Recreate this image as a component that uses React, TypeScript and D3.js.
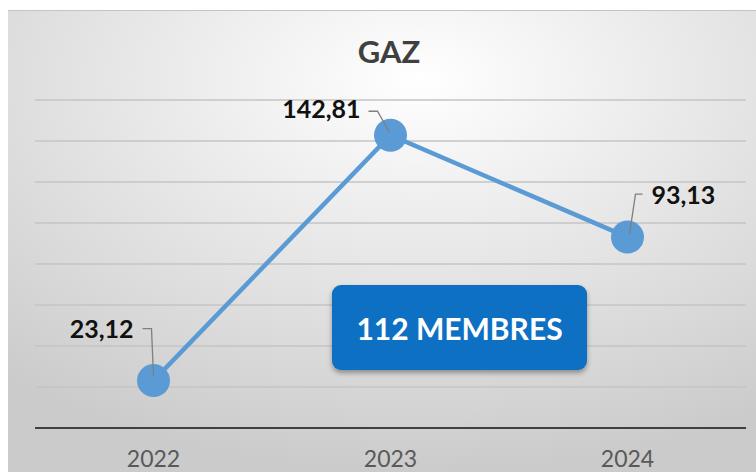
import React from "react";
import * as d3 from "d3";

const categories = ["2022", "2023", "2024"];
const values = [23.12, 142.81, 93.13];
const valueLabels = ["23,12", "142,81", "93,13"];
const yTicks = [20, 40, 60, 80, 100, 120, 140, 160];
const title = "GAZ";
const badge = "112 MEMBRES";

const W = 756;
const H = 472;
const FONT = "Lato, 'Open Sans', sans-serif";

export default function App() {
  const x = d3.scaleBand<string>().domain(categories).range([35, 746]);
  const y = d3.scaleLinear().domain([0, 160]).range([428, 100]);
  const cx = (c: string) => (x(c) as number) + x.bandwidth() / 2;
  const line = d3
    .line<number>()
    .x((_, i) => cx(categories[i]))
    .y((d) => y(d));

  const labelLayout = [
    { anchor: "end", dx: -20, dy: -43, leader: [[-11, -52], [-2, -52], [0, -4]] },
    { anchor: "end", dx: -30, dy: -17, leader: [[-22, -24], [-13, -24], [-1, -3]] },
    { anchor: "start", dx: 24, dy: -33, leader: [[15, -43], [8, -43], [2, -3]] },
  ];

  return (
    <svg
      width={W}
      height={H}
      style={{ position: "absolute", left: 0, top: 0 }}
      xmlns="http://www.w3.org/2000/svg"
    >
      <defs>
        <radialGradient id="bg" cx="55%" cy="15%" r="85%">
          <stop offset="0%" stopColor="#ffffff" />
          <stop offset="100%" stopColor="#cbcbcb" />
        </radialGradient>
        <filter id="shadow" x="-10%" y="-10%" width="120%" height="130%">
          <feDropShadow dx="0" dy="3" stdDeviation="2.5" floodColor="#000" floodOpacity="0.35" />
        </filter>
      </defs>
      <rect x={0} y={0} width={W} height={H} fill="#ffffff" />
      <rect x={8} y={10} width={W - 8} height={H - 10} fill="url(#bg)" />
      <line x1={8} x2={W} y1={10.5} y2={10.5} stroke="#c4c4c4" strokeWidth={1} />

      <text
        x={389}
        y={63}
        textAnchor="middle"
        fontFamily={FONT}
        fontWeight="bold"
        fontSize={31}
        fill="#404040"
      >
        {title}
      </text>

      {yTicks.map((t) => (
        <line
          key={t}
          x1={35}
          x2={746}
          y1={y(t)}
          y2={y(t)}
          stroke="#c4c4c4"
          strokeWidth={1.5}
        />
      ))}
      <line x1={35} x2={746} y1={y(0)} y2={y(0)} stroke="#404040" strokeWidth={2} />

      {categories.map((c) => (
        <text
          key={c}
          x={cx(c)}
          y={467}
          textAnchor="middle"
          fontFamily={FONT}
          fontSize={23}
          fill="#595959"
        >
          {c}
        </text>
      ))}

      <path d={line(values) || ""} fill="none" stroke="#5B9BD5" strokeWidth={4.5} />
      {values.map((v, i) => (
        <circle key={i} cx={cx(categories[i])} cy={y(v)} r={16.5} fill="#5B9BD5" />
      ))}

      {values.map((v, i) => {
        const px = cx(categories[i]);
        const py = y(v);
        const L = labelLayout[i];
        const d =
          "M" +
          L.leader.map(([a, b]) => `${px + a},${py + b}`).join("L");
        return (
          <g key={i}>
            <path d={d} fill="none" stroke="#7f7f7f" strokeWidth={1.3} />
            <text
              x={px + L.dx}
              y={py + L.dy}
              textAnchor={L.anchor as any}
              fontFamily={FONT}
              fontWeight="bold"
              fontSize={25}
              fill="#111111"
            >
              {valueLabels[i]}
            </text>
          </g>
        );
      })}

      <g filter="url(#shadow)">
        <rect x={332} y={285} width={255} height={85} rx={9} fill="#0A6FC2" />
      </g>
      <text
        x={459.5}
        y={340}
        textAnchor="middle"
        fontFamily={FONT}
        fontWeight="bold"
        fontSize={30}
        fill="#ffffff"
      >
        {badge}
      </text>
    </svg>
  );
}
